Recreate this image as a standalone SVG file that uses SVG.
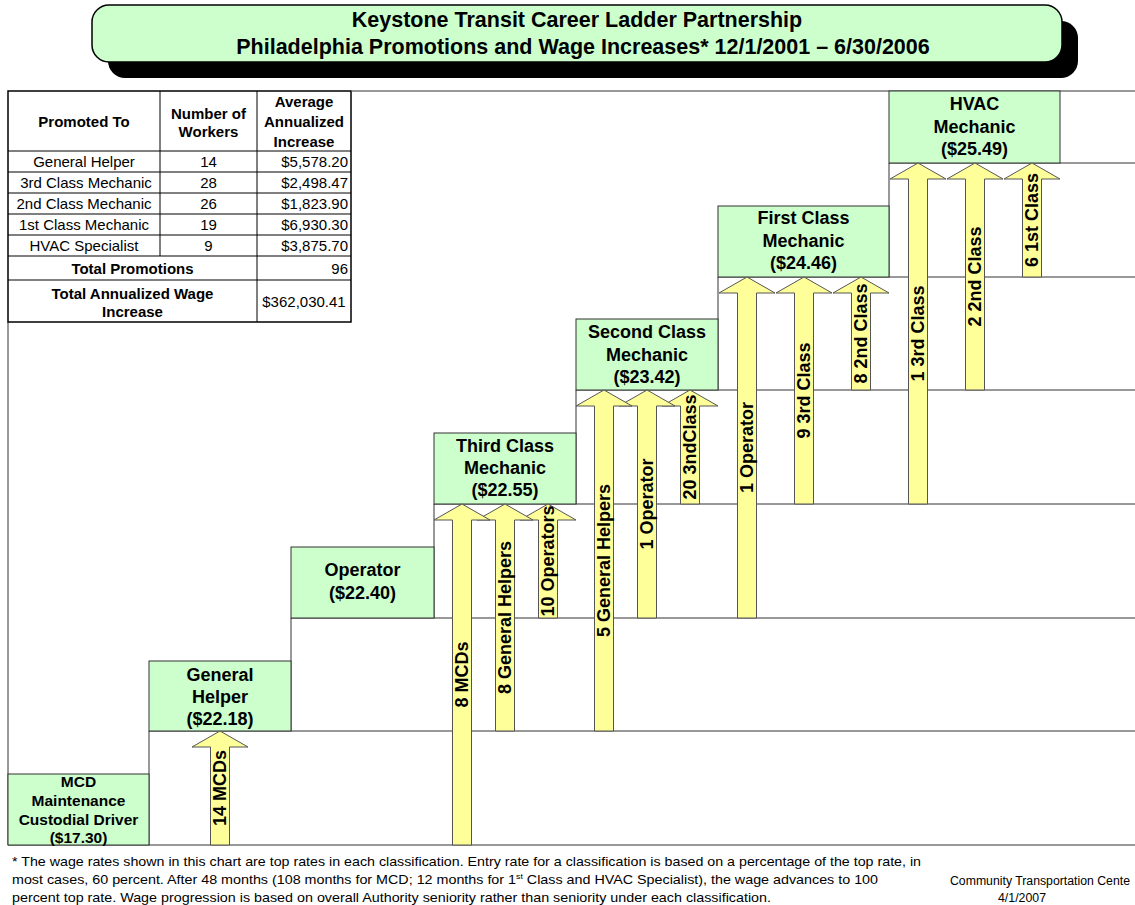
<svg xmlns="http://www.w3.org/2000/svg" width="1135" height="905" viewBox="0 0 1135 905">
<style>
text{font-family:"Liberation Sans",Arial,sans-serif;fill:#000}
.title{font-size:21.5px;font-weight:bold;text-anchor:middle}
.box{fill:#CCFFCC;stroke:#333;stroke-width:1}
.bl{font-size:18px;font-weight:bold;text-anchor:middle}
.bs{font-size:15.5px;font-weight:bold;text-anchor:middle}
.grid{stroke:#333;stroke-width:1;fill:none}
.arr{fill:#FFFF99;stroke:#555;stroke-width:1}
.al{font-size:18px;font-weight:bold;text-anchor:middle}
.th{font-size:15px;font-weight:bold;text-anchor:middle}
.td{font-size:15px;text-anchor:middle}
.tr{font-size:15px;text-anchor:end}
.tl{stroke:#000;stroke-width:1;fill:none}
.foot{font-size:13px}
.foot2{font-size:12px}
</style>
<rect width="1135" height="905" fill="#fff"/>
<g id="title">
<rect x="108" y="21" width="970" height="57" rx="17" fill="#000"/>
<rect x="92" y="5" width="970" height="57" rx="17" fill="#CCFFCC" stroke="#000" stroke-width="1.5"/>
<text class="title" x="577" y="27">Keystone Transit Career Ladder Partnership</text>
<text class="title" x="583" y="54">Philadelphia Promotions and Wage Increases* 12/1/2001 – 6/30/2006</text>
</g>
<g id="grid" class="grid">
<path d="M8,322V845M352,91H1135M149,731H1135M291,618H1135M434,504H1135M576,390H1135M718,277H1135M889,163H1135M8,845H1135"/>
<path d="M149,731V845M291,618V731M434,504V618M576,390V504M718,277V390M889,163V277"/>
</g>
<g id="node-mcd">
<rect class="box" x="8" y="774" width="141" height="71"/>
<text class="bs" x="78.5" y="787">MCD</text>
<text class="bs" x="78.5" y="806">Maintenance</text>
<text class="bs" x="78.5" y="825">Custodial Driver</text>
<text class="bs" x="78.5" y="843">($17.30)</text>
</g>
<g id="node-general-helper">
<rect class="box" x="149" y="661" width="142" height="70"/>
<text class="bl" x="220" y="681">General</text>
<text class="bl" x="220" y="703">Helper</text>
<text class="bl" x="220" y="725">($22.18)</text>
</g>
<g id="node-operator">
<rect class="box" x="291" y="547" width="143" height="71"/>
<text class="bl" x="362.5" y="576">Operator</text>
<text class="bl" x="362.5" y="599">($22.40)</text>
</g>
<g id="node-third-class">
<rect class="box" x="434" y="433" width="142" height="71"/>
<text class="bl" x="505" y="452">Third Class</text>
<text class="bl" x="505" y="474">Mechanic</text>
<text class="bl" x="505" y="496">($22.55)</text>
</g>
<g id="node-second-class">
<rect class="box" x="576" y="319" width="142" height="71"/>
<text class="bl" x="647" y="338">Second Class</text>
<text class="bl" x="647" y="361">Mechanic</text>
<text class="bl" x="647" y="383">($23.42)</text>
</g>
<g id="node-first-class">
<rect class="box" x="718" y="206" width="171" height="71"/>
<text class="bl" x="803.5" y="224">First Class</text>
<text class="bl" x="803.5" y="247">Mechanic</text>
<text class="bl" x="803.5" y="269">($24.46)</text>
</g>
<g id="node-hvac">
<rect class="box" x="889" y="91" width="171" height="72"/>
<text class="bl" x="974.5" y="110">HVAC</text>
<text class="bl" x="974.5" y="133">Mechanic</text>
<text class="bl" x="974.5" y="155">($25.49)</text>
</g>
<g id="connectors">
<path class="arr" d="M220,731L248,747H229.5V845H210.5V747H192Z"/>
<text class="al" x="220" y="788" dy="6.4" transform="rotate(-90 220 788)">14 MCDs</text>

<path class="arr" d="M548,504L576,520H557.5V618H538.5V520H520Z"/>
<text class="al" x="548" y="561" dy="6.4" transform="rotate(-90 548 561)">10 Operators</text>
<path class="arr" d="M505,504L533,520H514.5V731H495.5V520H477Z"/>
<text class="al" x="505" y="617.5" dy="6.4" transform="rotate(-90 505 617.5)">8 General Helpers</text>
<path class="arr" d="M462,504L490,520H471.5V845H452.5V520H434Z"/>
<text class="al" x="462" y="674.5" dy="6.4" transform="rotate(-90 462 674.5)">8 MCDs</text>

<path class="arr" d="M690,390L718,406H699.5V504H680.5V406H662Z"/>
<text class="al" x="690" y="447" dy="6.4" transform="rotate(-90 690 447)">20 3ndClass</text>
<path class="arr" d="M647,390L675,406H656.5V618H637.5V406H619Z"/>
<text class="al" x="647" y="504" dy="6.4" transform="rotate(-90 647 504)">1 Operator</text>
<path class="arr" d="M604,390L632,406H613.5V731H594.5V406H576Z"/>
<text class="al" x="604" y="560.5" dy="6.4" transform="rotate(-90 604 560.5)">5 General Helpers</text>

<path class="arr" d="M861,277L889,293H870.5V390H851.5V293H833Z"/>
<text class="al" x="861" y="333.5" dy="6.4" transform="rotate(-90 861 333.5)">8 2nd Class</text>
<path class="arr" d="M804,277L832,293H813.5V504H794.5V293H776Z"/>
<text class="al" x="804" y="390.5" dy="6.4" transform="rotate(-90 804 390.5)">9 3rd Class</text>
<path class="arr" d="M747,277L775,293H756.5V618H737.5V293H719Z"/>
<text class="al" x="747" y="447.5" dy="6.4" transform="rotate(-90 747 447.5)">1 Operator</text>

<path class="arr" d="M1032,163L1060,179H1041.5V277H1022.5V179H1004Z"/>
<text class="al" x="1032" y="220" dy="6.4" transform="rotate(-90 1032 220)">6 1st Class</text>
<path class="arr" d="M975,163L1003,179H984.5V390H965.5V179H947Z"/>
<text class="al" x="975" y="276.5" dy="6.4" transform="rotate(-90 975 276.5)">2 2nd Class</text>
<path class="arr" d="M918,163L946,179H927.5V504H908.5V179H890Z"/>
<text class="al" x="918" y="333.5" dy="6.4" transform="rotate(-90 918 333.5)">1 3rd Class</text>
</g>
<g id="table">
<rect x="8" y="91" width="343" height="231" fill="#fff" stroke="#000" stroke-width="1.5"/>
<path class="tl" d="M160,91V256M257,91V322M8,151H351M8,172H351M8,193H351M8,214H351M8,235H351M8,256H351M8,280H351"/>
<text class="th" x="84" y="127">Promoted To</text>
<text class="th" x="208.5" y="119">Number of</text>
<text class="th" x="208.5" y="137">Workers</text>
<text class="th" x="304" y="107">Average</text>
<text class="th" x="304" y="127">Annualized</text>
<text class="th" x="304" y="147">Increase</text>
<text class="td" x="84" y="167">General Helper</text>
<text class="td" x="208.5" y="167">14</text>
<text class="tr" x="348" y="167">$5,578.20</text>
<text class="td" x="86" y="188">3rd Class Mechanic</text>
<text class="td" x="208.5" y="188">28</text>
<text class="tr" x="348" y="188">$2,498.47</text>
<text class="td" x="84" y="209">2nd Class Mechanic</text>
<text class="td" x="208.5" y="209">26</text>
<text class="tr" x="348" y="209">$1,823.90</text>
<text class="td" x="84" y="230">1st Class Mechanic</text>
<text class="td" x="208.5" y="230">19</text>
<text class="tr" x="348" y="230">$6,930.30</text>
<text class="td" x="84" y="251">HVAC Specialist</text>
<text class="td" x="208.5" y="251">9</text>
<text class="tr" x="348" y="251">$3,875.70</text>
<text class="th" x="132.5" y="274">Total Promotions</text>
<text class="tr" x="348" y="274">96</text>
<text class="th" x="132.5" y="299">Total Annualized Wage</text>
<text class="th" x="132.5" y="317">Increase</text>
<text class="td" x="304" y="307">$362,030.41</text>
</g>
<g id="footer">
<text class="foot" x="12" y="866" textLength="909" lengthAdjust="spacingAndGlyphs">* The wage rates shown in this chart are top rates in each classification. Entry rate for a classification is based on a percentage of the top rate, in</text>
<text class="foot" x="12" y="884" textLength="866" lengthAdjust="spacingAndGlyphs">most cases, 60 percent. After 48 months (108 months for MCD; 12 months for 1<tspan font-size="8" dy="-5">st</tspan><tspan dy="5"> Class and HVAC Specialist), the wage advances to 100</tspan></text>
<text class="foot" x="12" y="902" textLength="759" lengthAdjust="spacingAndGlyphs">percent top rate.  Wage progression is based on overall Authority seniority rather than seniority under each classification.</text>
<text class="foot2" x="950" y="885" textLength="180" lengthAdjust="spacingAndGlyphs">Community Transportation Cente</text>
<text class="foot2" x="998" y="902" textLength="48" lengthAdjust="spacingAndGlyphs">4/1/2007</text>
</g>
</svg>
